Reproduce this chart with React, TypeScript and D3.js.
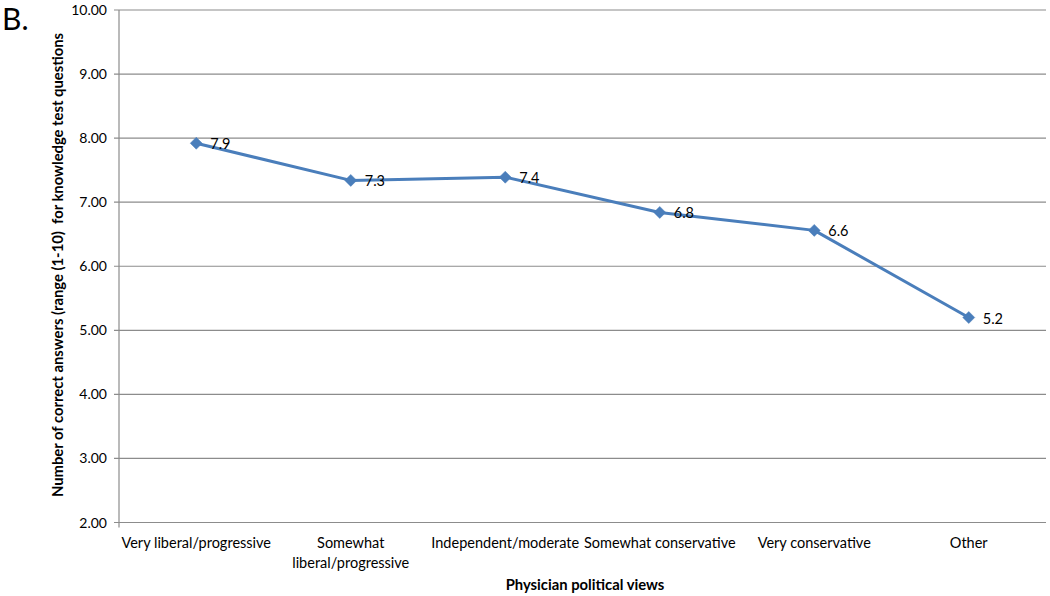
import React from "react";
import * as d3 from "d3";

const categories = [
  ["Very liberal/progressive"],
  ["Somewhat", "liberal/progressive"],
  ["Independent/moderate"],
  ["Somewhat conservative"],
  ["Very conservative"],
  ["Other"],
];
const values = [7.92, 7.34, 7.39, 6.84, 6.56, 5.2];
const labels = ["7.9", "7.3", "7.4", "6.8", "6.6", "5.2"];
const yTicks = [2, 3, 4, 5, 6, 7, 8, 9, 10];

const W = 1050;
const H = 596;
const M = { left: 119, right: 1046, top: 10, bottom: 522.5 };
const font = "Lato, 'Open Sans', sans-serif";

export default function App() {
  const x = d3
    .scaleBand<number>()
    .domain(d3.range(categories.length))
    .range([M.left, M.right]);
  const y = d3.scaleLinear().domain([2, 10]).range([M.bottom, M.top]);
  const cx = (i: number) => (x(i) as number) + x.bandwidth() / 2;
  const line = d3
    .line<number>()
    .x((_, i) => cx(i))
    .y((d) => y(d));
  const r = 6;
  const diamond = `M0,${-r}L${r},0L0,${r}L${-r},0Z`;

  return (
    <svg
      width={W}
      height={H}
      style={{ position: "absolute", left: 0, top: 0, background: "#fff" }}
      fontFamily={font}
    >
      <text x={2} y={30} fontSize={30} fill="#000">
        B.
      </text>
      {yTicks.map((t) => (
        <g key={t}>
          <line
            x1={M.left - 5}
            x2={M.right}
            y1={y(t)}
            y2={y(t)}
            stroke="#8c8c8c"
            strokeWidth={1.2}
          />
          <text
            x={107}
            y={y(t) + 5}
            textAnchor="end"
            fontSize={14}
            fill="#000"
          >
            {t.toFixed(2)}
          </text>
        </g>
      ))}
      <line
        x1={M.left}
        x2={M.left}
        y1={M.top}
        y2={M.bottom + 5}
        stroke="#8c8c8c"
        strokeWidth={1.2}
      />
      {categories.map((lines, i) => (
        <text key={i} textAnchor="middle" fontSize={14.5} fill="#000">
          {lines.map((l, j) => (
            <tspan key={j} x={cx(i)} y={548 + j * 20}>
              {l}
            </tspan>
          ))}
        </text>
      ))}
      <path
        d={line(values) || ""}
        fill="none"
        stroke="#4a7ebb"
        strokeWidth={3}
        strokeLinejoin="round"
      />
      {values.map((v, i) => (
        <g key={i}>
          <path
            d={diamond}
            transform={`translate(${cx(i)},${y(v)})`}
            fill="#4a7ebb"
            stroke="#4a7ebb"
            strokeWidth={0.5}
          />
          <text x={cx(i) + 14} y={y(v) + 6} fontSize={14.5} fill="#000">
            {labels[i]}
          </text>
        </g>
      ))}
      <text
        x={585}
        y={590}
        textAnchor="middle"
        fontSize={14.8}
        fontWeight="bold"
        fill="#000"
      >
        Physician political views
      </text>
      <text
        transform={`translate(63,265) rotate(-90)`}
        textAnchor="middle"
        fontSize={14.8}
        fontWeight="bold"
        fill="#000"
        style={{ whiteSpace: "pre" }}
      >
        Number of correct answers (range (1-10)  for knowledge test questions
      </text>
    </svg>
  );
}
